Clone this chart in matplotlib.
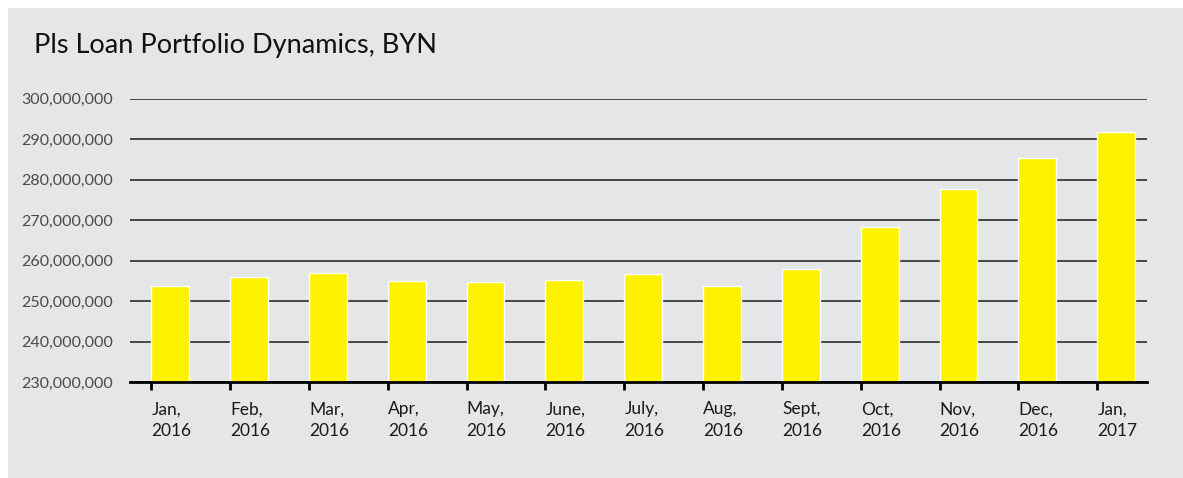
import matplotlib
matplotlib.use("Agg")
import matplotlib.pyplot as plt
from matplotlib.patches import Rectangle
from matplotlib.ticker import FuncFormatter

categories = ["Jan,\n2016", "Feb,\n2016", "Mar,\n2016", "Apr,\n2016", "May,\n2016",
              "June,\n2016", "July,\n2016", "Aug,\n2016", "Sept,\n2016", "Oct,\n2016",
              "Nov,\n2016", "Dec,\n2016", "Jan,\n2017"]
values = [253.8e6, 256.0e6, 257.0e6, 255.0e6, 254.7e6, 255.1e6, 256.7e6,
          253.8e6, 258.0e6, 268.3e6, 277.7e6, 285.2e6, 291.7e6]
yticks = [230e6, 240e6, 250e6, 260e6, 270e6, 280e6, 290e6, 300e6]
title = "Pls Loan Portfolio Dynamics, BYN"

plt.rcParams['font.family'] = ['Lato', 'DejaVu Sans']

W, H = 1183, 478
fig = plt.figure(figsize=(W / 100, H / 100), dpi=100)
fig.patch.set_facecolor("white")
bg = Rectangle((8 / W, 0), 1 - 8 / W, 1 - 8 / H, transform=fig.transFigure,
               facecolor="#e5e6e8", edgecolor="none", zorder=-10)
fig.add_artist(bg)

ax = fig.add_axes([130 / W, 1 - 382 / H, (1147 - 130) / W, (382 - 98.5) / H])
ax.set_facecolor("none")
ax.set_zorder(1)

x = list(range(len(categories)))
ax.bar(x, values, width=0.48, align="edge", color="#fff200",
       edgecolor="white", linewidth=1.0, zorder=3)

ax.set_xlim(-0.27, 12.63)
ax.set_ylim(230e6, 300e6)
ax.set_yticks(yticks)
ax.yaxis.set_major_formatter(FuncFormatter(lambda v, p: f"{v:,.0f}"))
ax.grid(axis="y", color="#2b2b2b", linewidth=1.2, zorder=1)
ax.set_axisbelow(True)

for s in ["top", "right", "left"]:
    ax.spines[s].set_visible(False)
ax.spines["bottom"].set_color("black")
ax.spines["bottom"].set_linewidth(2)
ax.spines["bottom"].set_zorder(4)

ax.set_xticks(x)
ax.set_xticklabels(categories, ha="left", multialignment="left", fontsize=12.5,
                   color="#1a1a1a", linespacing=1.4)
ax.tick_params(axis="x", direction="out", length=6, width=2, color="black", pad=8)
ax.tick_params(axis="y", length=0, labelsize=11.5, labelcolor="#4a4a4a", pad=12)

fig.text(34 / W, 1 - 45 / H, title, fontsize=19.5, color="#111111", va="center", ha="left")

fig.savefig("out.png", dpi=100, facecolor=fig.get_facecolor())
